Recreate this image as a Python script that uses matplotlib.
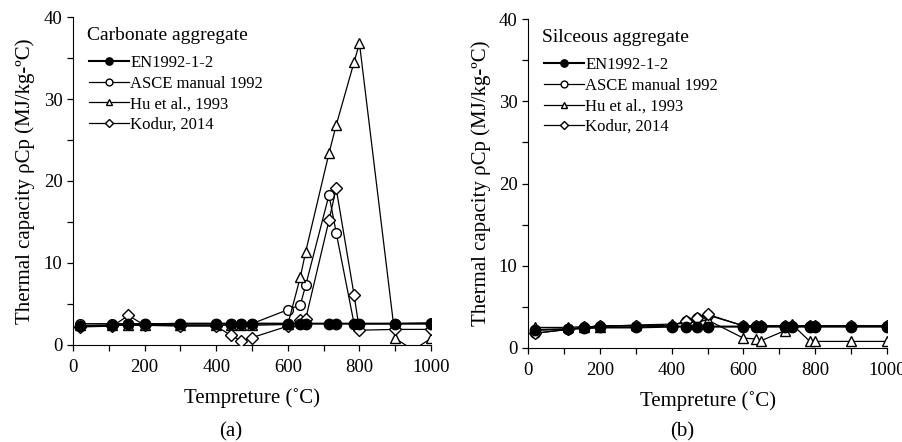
import numpy as np
import matplotlib.pyplot as plt
from matplotlib.ticker import MultipleLocator

plt.rcParams['font.family'] = ['Liberation Serif', 'DejaVu Serif']

# temperature points (C)
temp = [20, 110, 155, 200, 300, 400, 440, 470, 500, 600, 635, 650, 715, 735, 785, 800, 900, 1000]
temp_hu_carb = temp[:-1] + [950, 1000]

# carbonate aggregate
en_carb = [2.3, 2.4, 2.5, 2.5, 2.6, 2.6, 2.6, 2.6, 2.6, 2.6, 2.6, 2.6, 2.6, 2.6, 2.6, 2.6, 2.6, 2.6]
asce_carb = [2.6, 2.6, 2.6, 2.6, 2.6, 2.6, 2.6, 2.6, 2.6, 4.3, 4.9, 7.3, 18.3, 13.7, 2.6, 2.6, 2.6, 2.7]
hu_carb = [2.4, 2.4, 2.4, 2.4, 2.4, 2.4, 2.4, 2.4, 2.4, 2.5, 8.3, 11.4, 23.4, 26.8, 34.5, 36.8, 0.8, -0.6, 0.8]
kodur_carb = [2.2, 2.3, 3.6, 2.4, 2.3, 2.3, 1.2, 0.5, 0.9, 2.3, 3.0, 3.2, 15.2, 19.1, 6.1, 1.8, 1.9, 1.9]

# siliceous aggregate
en_sil = [2.2, 2.3, 2.4, 2.5, 2.5, 2.6, 2.6, 2.6, 2.6, 2.6, 2.6, 2.6, 2.6, 2.6, 2.6, 2.6, 2.6, 2.6]
asce_sil = [1.8, 2.25, 2.5, 2.7, 2.7, 2.7, 3.3, 3.7, 4.0, 2.7, 2.7, 2.7, 2.7, 2.7, 2.7, 2.7, 2.7, 2.7]
hu_sil = [2.5, 2.5, 2.6, 2.6, 2.8, 2.9, 3.0, 3.2, 3.4, 1.2, 1.1, 0.9, 2.1, 2.9, 0.8, 0.8, 0.8, 0.8]
kodur_sil = [1.8, 2.25, 2.5, 2.7, 2.7, 2.7, 3.3, 3.7, 4.1, 2.7, 2.7, 2.7, 2.7, 2.7, 2.7, 2.7, 2.7, 2.7]

labels = ['EN1992-1-2', 'ASCE manual 1992', 'Hu et al., 1993', 'Kodur, 2014']

fig = plt.figure(figsize=(9.02, 4.42), dpi=100)
ax1 = fig.add_axes([0.0809, 0.2195, 0.397, 0.742])
ax2 = fig.add_axes([0.5854, 0.2127, 0.398, 0.744])


def draw(ax, en, asce, hu, hu_t, kodur, title, cap, cap_x):
    # only mark the real Hu points (the dip below zero is hidden under the axis)
    hu_marks = [i for i, v in enumerate(hu) if v >= 0]
    ax.plot(temp, asce, '-o', color='k', lw=0.9, ms=7, mfc='white', label=labels[1], zorder=4)
    ax.plot(hu_t, hu, '-^', color='k', lw=0.9, ms=7, mfc='white', markevery=hu_marks,
            label=labels[2], zorder=4)
    ax.plot(temp, kodur, '-D', color='k', lw=0.9, ms=6, mfc='white', label=labels[3], zorder=4)
    ax.plot(temp, en, '-o', color='k', lw=1.5, ms=7.5, mfc='k', label=labels[0], zorder=5)

    ax.set_xlim(0, 1000)
    ax.set_ylim(0, 40)
    ax.spines['top'].set_visible(False)
    ax.spines['right'].set_visible(False)
    ax.xaxis.set_major_locator(MultipleLocator(200))
    ax.xaxis.set_minor_locator(MultipleLocator(100))
    ax.yaxis.set_major_locator(MultipleLocator(10))
    ax.yaxis.set_minor_locator(MultipleLocator(5))
    ax.tick_params(which='both', direction='out', labelsize=13.5, length=4, width=0.9)
    ax.tick_params(axis='x', pad=6)
    ax.set_xlabel('Tempreture (˚C)', fontsize=15, labelpad=9)
    ax.set_ylabel('Thermal capacity ρCp (MJ/kg-ºC)', fontsize=15, labelpad=6)

    ax.text(0.04, 0.945, title, transform=ax.transAxes, ha='left', va='center', fontsize=14)
    h, l = ax.get_legend_handles_labels()
    order = [3, 0, 1, 2]
    ax.legend([h[i] for i in order], [l[i] for i in order], loc='upper left',
              bbox_to_anchor=(0.025, 0.905), frameon=False, fontsize=12,
              handlelength=2.4, handletextpad=0.1, labelspacing=0.28,
              markerscale=0.7, borderaxespad=0.0)
    fig.text(cap_x, 0.022, cap, ha='center', va='center', fontsize=15)


draw(ax1, en_carb, asce_carb, hu_carb, temp_hu_carb, kodur_carb, 'Carbonate aggregate', '(a)', 0.256)
draw(ax2, en_sil, asce_sil, hu_sil, temp, kodur_sil, 'Silceous aggregate', '(b)', 0.756)

fig.savefig('out.png', dpi=100)
